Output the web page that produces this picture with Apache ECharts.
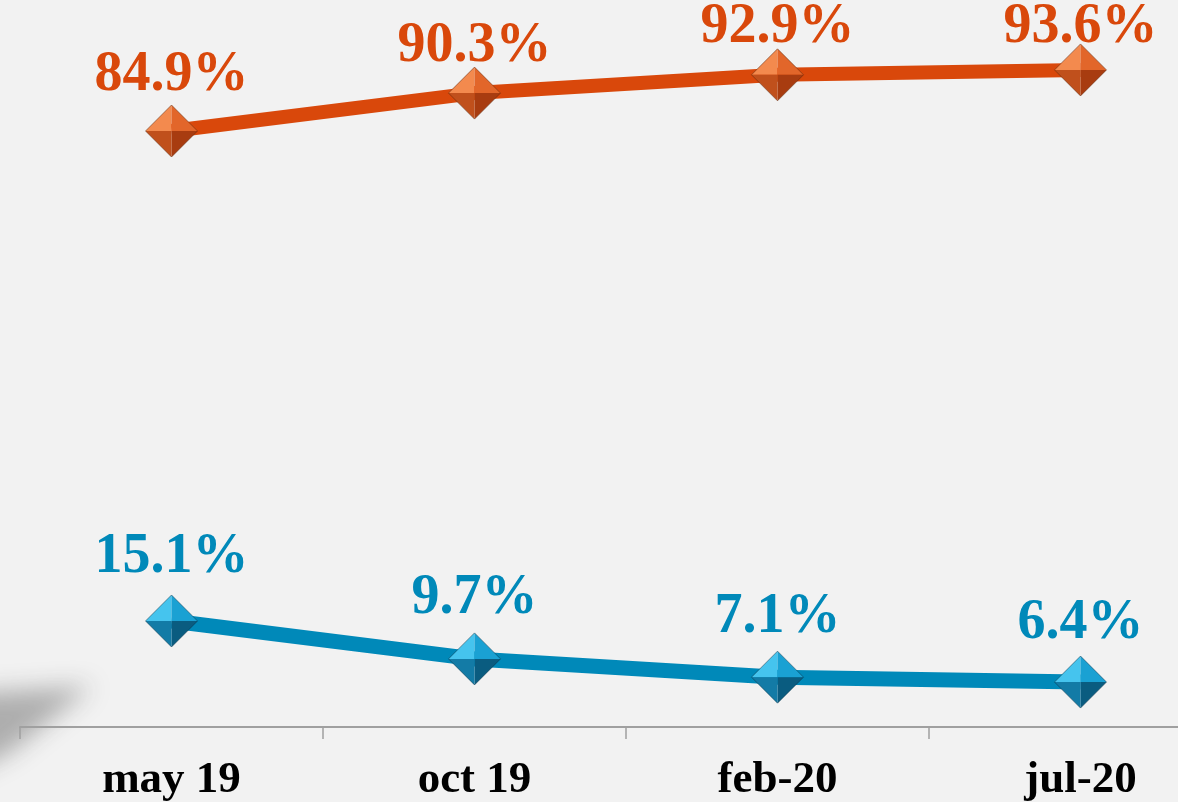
<!DOCTYPE html>
<html>
<head>
<meta charset="utf-8">
<script src="https://cdn.jsdelivr.net/npm/echarts@6/dist/echarts.min.js"></script>
<style>
html,body{margin:0;padding:0;background:#f2f2f2;}
#chart{width:1178px;height:802px;}
</style>
</head>
<body>
<div id="chart"></div>
<script>
const categories = ['may 19', 'oct 19', 'feb-20', 'jul-20'];
const seriesOrange = [84.9, 90.3, 92.9, 93.6];
const seriesBlue = [15.1, 9.7, 7.1, 6.4];

// styling (label distance above marker, px)
const labelGapOrange = [55, 47, 47, 42];
const labelGapBlue = [63, 60, 60, 59];

const ORANGE = '#d9480b';
const BLUE = '#0089b9';

const facesOrange = ['#f38a4e', '#e2662a', '#a83c10', '#c0501c'];
const facesBlue = ['#45c4ee', '#1aa1d3', '#0a5c80', '#137ba6'];

function pyramid(faces, color, gaps, edge) {
  return function (params, api) {
    const p = api.coord([api.value(0), api.value(1)]);
    const r = 26;
    const L = [p[0] - r, p[1]], T = [p[0], p[1] - r], R = [p[0] + r, p[1]], B = [p[0], p[1] + r], C = p;
    const ly = p[1] - gaps[params.dataIndex];
    return {
      type: 'group',
      children: [
        { type: 'polygon', shape: { points: [L, T, C] }, style: { fill: faces[0] } },
        { type: 'polygon', shape: { points: [T, R, C] }, style: { fill: faces[1] } },
        { type: 'polygon', shape: { points: [R, B, C] }, style: { fill: faces[2] } },
        { type: 'polygon', shape: { points: [B, L, C] }, style: { fill: faces[3] } },
        { type: 'polygon', shape: { points: [L, T, R, B] }, style: { fill: 'none', stroke: edge, lineWidth: 1 } },
        {
          type: 'text',
          x: p[0], y: ly,
          style: {
            text: api.value(1).toFixed(1) + '%',
            fill: color,
            font: 'bold 56px "Liberation Serif", serif',
            align: 'center',
            verticalAlign: 'middle'
          }
        }
      ]
    };
  };
}

const chart = echarts.init(document.getElementById('chart'));
chart.setOption({
  backgroundColor: '#f2f2f2',
  animation: false,
  grid: { left: 20, top: 25, width: 1212, height: 702, containLabel: false, outerBoundsMode: 'none' },
  xAxis: {
    type: 'category',
    data: categories,
    boundaryGap: true,
    axisLine: { lineStyle: { color: '#a0a0a0', width: 2 } },
    axisTick: { show: true, length: 12, lineStyle: { color: '#a0a0a0', width: 1.5 } },
    axisLabel: {
      color: '#000',
      fontFamily: '"Liberation Serif", serif',
      fontWeight: 'bold',
      fontSize: 45,
      margin: 31
    }
  },
  yAxis: {
    type: 'value',
    min: 0, max: 100,
    show: false,
    splitLine: { show: false }
  },
  graphic: [{
    type: 'polygon',
    z: 0,
    shape: { points: [[-2030, 693], [-1908, 686], [-1990, 752], [-2030, 772]] },
    style: { fill: '#b8b8b8', shadowBlur: 24, shadowColor: 'rgba(170,170,170,0.95)', shadowOffsetX: 2000 }
  }],
  series: [
    {
      type: 'line', data: seriesOrange, symbol: 'none',
      lineStyle: { color: ORANGE, width: 14 }, z: 2
    },
    {
      type: 'line', data: seriesBlue, symbol: 'none',
      lineStyle: { color: BLUE, width: 15 }, z: 2
    },
    {
      type: 'custom', z: 5,
      data: seriesOrange.map((v, i) => [i, v]),
      renderItem: pyramid(facesOrange, ORANGE, labelGapOrange, 'rgba(90,35,10,0.5)')
    },
    {
      type: 'custom', z: 5,
      data: seriesBlue.map((v, i) => [i, v]),
      renderItem: pyramid(facesBlue, BLUE, labelGapBlue, 'rgba(10,50,70,0.5)')
    }
  ]
});
</script>
</body>
</html>
